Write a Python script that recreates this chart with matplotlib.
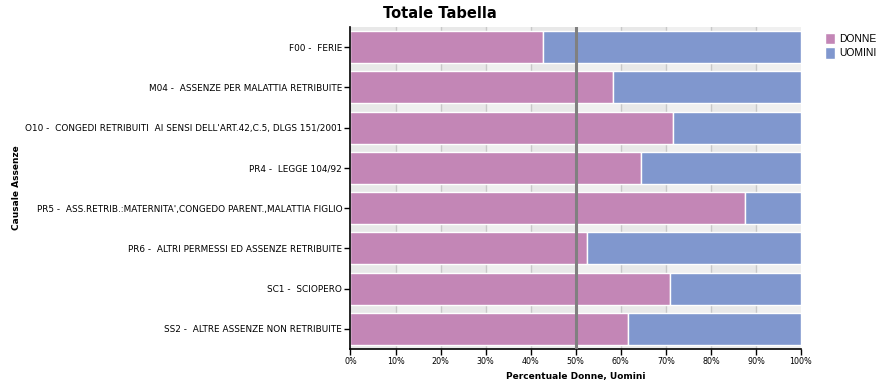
import matplotlib.pyplot as plt
import numpy as np

causali = ["F00 -  FERIE",
           "M04 -  ASSENZE PER MALATTIA RETRIBUITE",
           "O10 -  CONGEDI RETRIBUITI  AI SENSI DELL'ART.42,C.5, DLGS 151/2001",
           "PR4 -  LEGGE 104/92",
           "PR5 -  ASS.RETRIB.:MATERNITA',CONGEDO PARENT.,MALATTIA FIGLIO",
           "PR6 -  ALTRI PERMESSI ED ASSENZE RETRIBUITE",
           "SC1 -  SCIOPERO",
           "SS2 -  ALTRE ASSENZE NON RETRIBUITE"]
donne = [42.7, 58.3, 71.6, 64.5, 87.5, 52.5, 70.9, 61.6]
uomini = [100 - d for d in donne]
xticks = [0, 10, 20, 30, 40, 50, 60, 70, 80, 90, 100]

col_d = '#c386b6'
col_u = '#8097ce'

fig = plt.figure(figsize=(8.79, 3.9), dpi=100)
ax = fig.add_axes([350.5/879, 1 - 349/390, 450.5/879, 322/390])

# column bands in the background
for i in range(10):
    ax.axvspan(i*10, i*10 + 10, color='#e8e8e8' if i % 2 == 0 else '#f0f0f0', zorder=0, lw=0)
for t in xticks[1:-1]:
    ax.axvline(t, color='#c8c8c8', lw=1, zorder=0.5)

y = np.arange(len(causali))
ax.barh(y, donne, height=0.8, color=col_d, edgecolor='white', lw=1, label='DONNE', zorder=2)
ax.barh(y, uomini, left=donne, height=0.8, color=col_u, edgecolor='white', lw=1, label='UOMINI', zorder=2)
ax.axvline(50, color='#808080', lw=2.2, zorder=3)

ax.set_xlim(0, 100)
ax.set_ylim(len(causali) - 0.5, -0.5)
ax.set_yticks(y)
ax.set_yticklabels(causali, fontsize=6.4)
ax.set_xticks(xticks)
ax.set_xticklabels([f"{t}%" for t in xticks], fontsize=5.8)
ax.tick_params(axis='both', length=4, width=1, color='black', pad=2)
for s in ['top', 'right']:
    ax.spines[s].set_visible(False)
for s in ['left', 'bottom']:
    ax.spines[s].set_linewidth(1.2)

ax.set_xlabel("Percentuale Donne, Uomini", fontsize=6.5, fontweight='bold', labelpad=4)
fig.text(17/879, 1 - 188/390, "Causale Assenze", rotation=90, fontsize=6.5,
         fontweight='bold', ha='center', va='center')
fig.text(0.5, 1 - 14/390, "Totale Tabella", fontsize=10.5, fontweight='bold',
         ha='center', va='center')

h, l = ax.get_legend_handles_labels()
fig.legend(h, l, loc='upper left', bbox_to_anchor=(820/879, 1 - 28/390), frameon=False,
           prop={'family': 'Liberation Sans', 'size': 7.4}, handlelength=1.0,
           handleheight=1.3, handletextpad=0.4, labelspacing=0.3, borderpad=0)

fig.savefig('out.png', dpi=100)
